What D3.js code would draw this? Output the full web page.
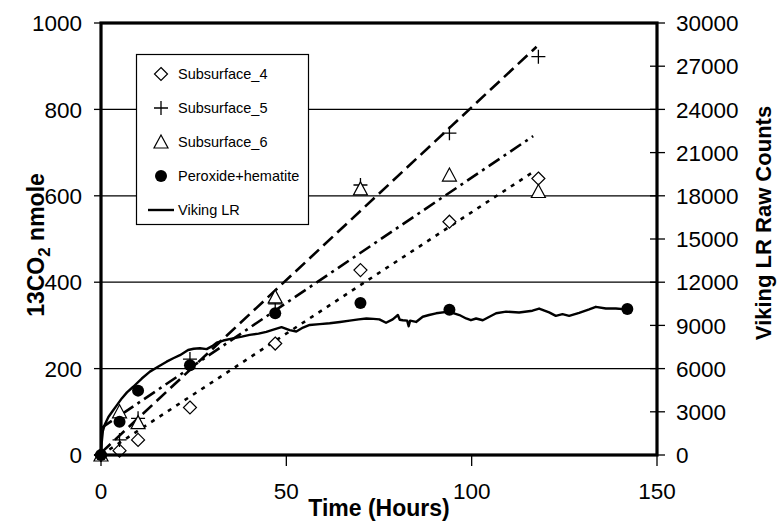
<!DOCTYPE html>
<html>
<head>
<meta charset="utf-8">
<script src="https://cdn.jsdelivr.net/npm/d3@7"></script>
<style>
  html, body { margin: 0; padding: 0; background: #fff; }
  svg { display: block; font-family: "Liberation Sans", Arial, Helvetica, sans-serif; }
</style>
</head>
<body>
<svg id="chart" width="780" height="522"></svg>
<script>
// Sampling times (hours) for each series
const hoursSub4 = [0, 5, 10, 24, 47, 70, 94, 118];
const hoursSub5 = [0, 5, 10, 24, 47, 70, 94, 118];
const hoursSub6 = [0, 5, 10, 47, 70, 94, 118];
const hoursPerox = [0, 5, 10, 24, 47, 70, 94, 142];

// 13CO2 released (nmole)
const sub4 = [0, 10, 35, 110, 258, 428, 540, 640];
const sub5 = [0, 35, 85, 222, 350, 625, 745, 922];
const sub6 = [0, 100, 75, 366, 616, 648, 610];
const perox = [0, 77, 149, 208, 328, 352, 336, 338];

// Linear trend lines: [intercept, slope (nmole/h), last hour]
const trendSub4 = [0, 5.62, 116];
const trendSub5 = [5, 8.0, 117.5];
const trendSub6 = [62, 5.8, 116.6];

// Viking LR raw counts: [hour, counts]
const vikingLR = [
  [0, 0], [0.2, 900], [0.5, 1650], [1, 2100], [2, 2640], [3, 3000], [4, 3360],
  [5.6, 3930], [7, 4350], [8.7, 4740], [11, 5310], [13.2, 5790], [15.5, 6150],
  [17.7, 6480], [19.5, 6720], [21.3, 6930], [23.5, 7290], [25, 7380], [26.7, 7410],
  [28.5, 7350], [30, 7560], [31.2, 7800], [33, 7950], [35.6, 8100], [38, 8220],
  [40.1, 8340], [42.5, 8430], [44.6, 8550], [46.5, 8700], [48.7, 8880], [50.9, 8670],
  [52.7, 8580], [54.5, 8850], [56.3, 9030], [59, 9090], [61.7, 9150], [64.5, 9240],
  [67.1, 9330], [69.5, 9420], [71.6, 9480], [73.5, 9450], [75.1, 9420], [76.9, 9180],
  [78.7, 9420], [80.1, 9720], [80.6, 9390], [81.4, 9360], [82.6, 9330], [83, 8940],
  [83.4, 9330], [85, 9240], [86.8, 9600], [88.5, 9720], [90.4, 9840], [93.8, 9960],
  [96.7, 9720], [98.5, 9480], [99.8, 9360], [101.2, 9480], [103, 9360], [103.9, 9480],
  [106.6, 9840], [109.3, 9960], [112.8, 9900], [116.4, 10020], [118.2, 10170],
  [120.9, 9900], [122.7, 9660], [124.5, 9780], [126.3, 9660], [129, 9870],
  [131.7, 10110], [133.5, 10290], [136.2, 10170], [138.9, 10170], [141.6, 10110]
];

// Axis ticks
const xTicks = [0, 50, 100, 150];
const yTicks = [0, 200, 400, 600, 800, 1000];
const gridTicks = [200, 400, 600, 800];
const y2Ticks = [0, 3000, 6000, 9000, 12000, 15000, 18000, 21000, 24000, 27000, 30000];

const legendNames = ["Subsurface_4", "Subsurface_5", "Subsurface_6", "Peroxide+hematite", "Viking LR"];

const svg = d3.select("#chart");
const L = 101, R = 657, T = 23, B = 455;

const x = d3.scaleLinear().domain([0, 150]).range([L, R]);
const y = d3.scaleLinear().domain([0, 1000]).range([B, T]);
const y2 = d3.scaleLinear().domain([0, 30000]).range([B, T]);

// Horizontal grid lines
svg.append("g").selectAll("line").data(gridTicks).join("line")
  .attr("x1", L).attr("x2", R)
  .attr("y1", d => y(d)).attr("y2", d => y(d))
  .attr("stroke", "#000").attr("stroke-width", 1.2);

// Trend lines
const trends = [
  { p: trendSub4, dash: "4,6" },
  { p: trendSub5, dash: "13,6" },
  { p: trendSub6, dash: "13,5,3,5" }
];
svg.append("g").selectAll("line").data(trends).join("line")
  .attr("x1", x(0)).attr("y1", d => y(d.p[0]))
  .attr("x2", d => x(d.p[2])).attr("y2", d => y(d.p[0] + d.p[1] * d.p[2]))
  .attr("stroke", "#000").attr("stroke-width", 2.6)
  .attr("stroke-dasharray", d => d.dash);

// Viking LR curve on the right-hand axis
svg.append("path")
  .datum(vikingLR)
  .attr("fill", "none").attr("stroke", "#000").attr("stroke-width", 2.4)
  .attr("stroke-linejoin", "round")
  .attr("d", d3.line().x(d => x(d[0])).y(d => y2(d[1])));

// Marker shapes
function diamond(g) {
  g.append("path").attr("d", "M0,-6.5L6.5,0L0,6.5L-6.5,0Z")
    .attr("fill", "#fff").attr("stroke", "#000").attr("stroke-width", 1.2);
}
function plus(g) {
  g.append("path").attr("d", "M-7,0H7M0,-7V7")
    .attr("fill", "none").attr("stroke", "#000").attr("stroke-width", 1.3);
}
function triangle(g) {
  g.append("path").attr("d", "M0,-7L7,6L-7,6Z")
    .attr("fill", "#fff").attr("stroke", "#000").attr("stroke-width", 1.2);
}
function dot(g) {
  g.append("circle").attr("r", 6).attr("fill", "#000");
}

function drawSeries(hours, vals, shape) {
  svg.append("g").selectAll("g").data(vals).join("g")
    .attr("transform", (d, i) => `translate(${x(hours[i])},${y(d)})`)
    .each(function () { shape(d3.select(this)); });
}
drawSeries(hoursSub4, sub4, diamond);
drawSeries(hoursSub5, sub5, plus);
drawSeries(hoursSub6, sub6, triangle);
drawSeries(hoursPerox, perox, dot);

// Frame
svg.append("rect").attr("x", L).attr("y", T).attr("width", R - L).attr("height", B - T)
  .attr("fill", "none").attr("stroke", "#000").attr("stroke-width", 3.2);

// Left axis ticks and labels
const gl = svg.append("g");
gl.selectAll("line").data(yTicks).join("line")
  .attr("x1", L - 7).attr("x2", L).attr("y1", d => y(d)).attr("y2", d => y(d))
  .attr("stroke", "#000").attr("stroke-width", 1.3);
gl.selectAll("text").data(yTicks).join("text")
  .attr("x", 82).attr("y", d => y(d)).attr("dy", "0.36em")
  .attr("text-anchor", "end").attr("font-size", 22.5).text(d => d);

// Right axis ticks and labels
const gr = svg.append("g");
gr.selectAll("line").data(y2Ticks).join("line")
  .attr("x1", R - 7).attr("x2", R + 8).attr("y1", d => y2(d)).attr("y2", d => y2(d))
  .attr("stroke", "#000").attr("stroke-width", 1.3);
gr.selectAll("text").data(y2Ticks).join("text")
  .attr("x", 676).attr("y", d => y2(d)).attr("dy", "0.36em")
  .attr("text-anchor", "start").attr("font-size", 22.5).text(d => d);

// Bottom axis ticks and labels
const gb = svg.append("g");
gb.selectAll("line").data(xTicks).join("line")
  .attr("x1", d => x(d)).attr("x2", d => x(d)).attr("y1", B).attr("y2", B + 11)
  .attr("stroke", "#000").attr("stroke-width", 1.3);
gb.selectAll("text").data(xTicks).join("text")
  .attr("x", d => x(d)).attr("y", 499)
  .attr("text-anchor", "middle").attr("font-size", 22.5).text(d => d);

// Axis titles
svg.append("text").attr("x", 379).attr("y", 516).attr("text-anchor", "middle")
  .attr("font-size", 23).attr("font-weight", "bold").text("Time (Hours)");

const yt = svg.append("text")
  .attr("transform", "translate(44,245) rotate(-90)")
  .attr("text-anchor", "middle").attr("font-size", 23).attr("font-weight", "bold");
yt.append("tspan").text("13CO");
yt.append("tspan").attr("font-size", 17).attr("dy", 6).text("2");
yt.append("tspan").attr("dy", -6).text(" nmole");

svg.append("text")
  .attr("transform", "translate(771,223) rotate(-90)")
  .attr("text-anchor", "middle").attr("font-size", 22).attr("font-weight", "bold")
  .text("Viking LR Raw Counts");

// Legend
const lg = svg.append("g");
lg.append("rect").attr("x", 136.5).attr("y", 54.5).attr("width", 172).attr("height", 170)
  .attr("fill", "#fff").attr("stroke", "#000").attr("stroke-width", 1.2);
const shapes = [diamond, plus, triangle, dot];
const rowY = [74, 108, 142, 176, 210];
legendNames.forEach((name, i) => {
  const g = lg.append("g").attr("transform", `translate(161,${rowY[i]})`);
  if (i < 4) shapes[i](g);
  else g.append("line").attr("x1", -13).attr("x2", 13).attr("stroke", "#000").attr("stroke-width", 2.4);
  lg.append("text").attr("x", 178).attr("y", rowY[i]).attr("dy", "0.36em")
    .attr("font-size", 14.5).text(name);
});
</script>
</body>
</html>
